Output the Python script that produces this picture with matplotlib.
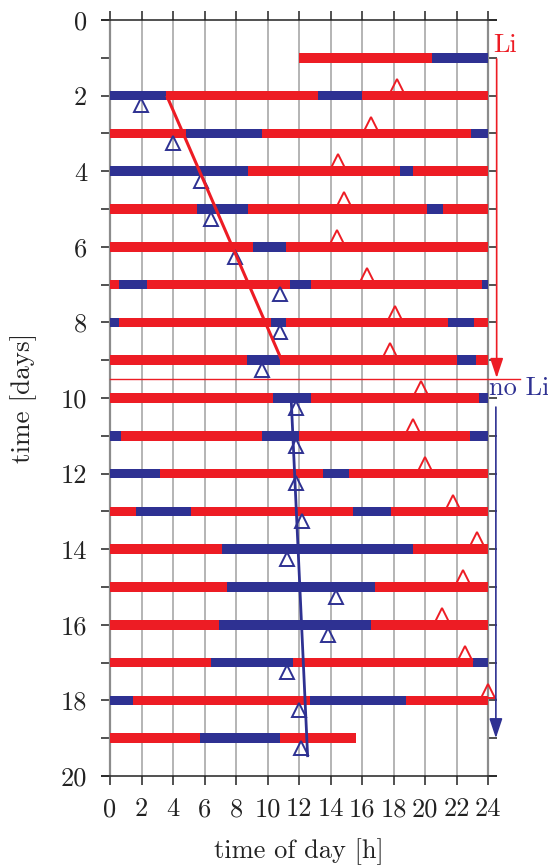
import matplotlib
matplotlib.use("Agg")
import matplotlib.pyplot as plt

plt.rcParams["font.family"] = ["cmr10", "DejaVu Serif"]
plt.rcParams["axes.formatter.use_mathtext"] = True

RED = "#ED1C24"
BLUE = "#2E3192"

# recording days (rows of the actogram)
days = list(range(1, 20))

# switching times within each day [h]; states alternate starting from first_state
edges = [
    [12, 20.44, 24],
    [0, 3.56, 13.2, 16.0, 24],
    [0, 4.81, 9.62, 22.92, 24],
    [0, 8.79, 18.43, 19.22, 24],
    [0, 5.51, 8.79, 20.13, 21.12, 24],
    [0, 9.11, 11.19, 24],
    [0, 0.59, 2.35, 11.42, 12.78, 23.62, 24],
    [0, 0.57, 10.21, 11.19, 21.46, 23.09, 24],
    [0, 8.71, 10.81, 22.03, 23.22, 24],
    [0, 10.38, 12.78, 23.43, 24],
    [0, 0.68, 9.64, 12.01, 22.84, 24],
    [0, 3.18, 13.52, 15.19, 24],
    [0, 1.63, 5.17, 15.42, 17.82, 24],
    [0, 7.12, 19.22, 24],
    [0, 7.42, 16.8, 24],
    [0, 6.91, 16.59, 24],
    [0, 6.4, 11.59, 23.03, 24],
    [0, 1.48, 12.71, 18.81, 24],
    [0, 5.72, 10.81, 15.61],
]
first_state = ["r", "b", "r", "b", "r", "r", "r", "b", "r", "r",
               "b", "b", "r", "r", "r", "r", "r", "b", "r"]

# red markers (above rows)
red_marker_days = list(range(2, 19))
red_marker_hours = [18.2, 16.57, 14.47, 14.83, 14.41, 16.31, 18.07, 17.75,
                    19.77, 19.22, 20.02, 21.78, 23.3, 22.41, 21.08, 22.56, 24.0]

# blue markers (below rows)
blue_marker_days = list(range(2, 20))
blue_marker_hours = [1.97, 4.0, 5.8, 6.42, 7.94, 10.8, 10.8, 9.62, 11.82,
                     11.82, 11.82, 12.18, 11.23, 14.34, 13.83, 11.23, 12.01, 12.1]

# phase fits
red_fit_hours = [3.6, 10.9]
red_fit_days = [2.0, 9.0]
blue_fit_hours = [11.5, 12.55]
blue_fit_days = [10.0, 19.5]

# condition change
switch_day = 9.5

xticks = list(range(0, 25, 2))
yticks = list(range(0, 21))
ytick_labels = [str(d) if d % 2 == 0 else "" for d in yticks]

fig = plt.figure(figsize=(5.48, 8.67), dpi=100)
ax = fig.add_axes([110 / 548, 1 - 776 / 867, 378 / 548, 756 / 867])

bar_h = 0.25
for day, row, st in zip(days, edges, first_state):
    col = RED if st == "r" else BLUE
    other = BLUE if st == "r" else RED
    for i in range(len(row) - 1):
        c = col if i % 2 == 0 else other
        ax.barh(day, row[i + 1] - row[i], left=row[i], height=bar_h,
                color=c, edgecolor="none", zorder=3)

off = 0.26
ax.plot(red_marker_hours, [d - off for d in red_marker_days], linestyle="none",
        marker="^", ms=10.5, mfc="none", mec=RED, mew=1.4, zorder=5, clip_on=False)
ax.plot(blue_marker_hours, [d + off for d in blue_marker_days], linestyle="none",
        marker="^", ms=10.5, mfc="none", mec=BLUE, mew=1.4, zorder=5, clip_on=False)

ax.plot(red_fit_hours, red_fit_days, color=RED, lw=2.2, zorder=6,
        solid_capstyle="butt")
ax.plot(blue_fit_hours, blue_fit_days, color=BLUE, lw=2.0, zorder=6,
        solid_capstyle="butt")

ax.plot([0, 26.0], [switch_day, switch_day], color=RED, lw=1.0, zorder=4,
        clip_on=False)

# condition arrows
ax.annotate("", xy=(24.55, 9.47), xytext=(24.55, 1.03),
            arrowprops=dict(arrowstyle="-|>,head_length=0.6,head_width=0.2",
                            mutation_scale=20, color=RED, lw=1.2,
                            shrinkA=0, shrinkB=0),
            annotation_clip=False, zorder=7)
ax.annotate("", xy=(24.5, 19.0), xytext=(24.5, 10.24),
            arrowprops=dict(arrowstyle="-|>,head_length=0.6,head_width=0.2",
                            mutation_scale=20, color=BLUE, lw=1.2,
                            shrinkA=0, shrinkB=0),
            annotation_clip=False, zorder=7)

ax.text(24.3, 0.85, "Li", color=RED, fontsize=19, ha="left", va="baseline",
        clip_on=False)
ax.text(24.04, 9.92, "no Li", color=BLUE, fontsize=19, ha="left",
        va="baseline", clip_on=False)

ax.set_xlim(0, 24)
ax.set_ylim(20, 0)

ax.set_xticks(xticks)
ax.set_xticklabels([str(t) for t in xticks])
ax.set_yticks(yticks)
ax.set_yticklabels(ytick_labels)

ax.tick_params(axis="x", direction="out", length=6.5, width=1.1, color="#222222",
               top=True, bottom=True, labeltop=False, labelbottom=True,
               pad=9, labelsize=19, labelcolor="#222222")
ax.tick_params(axis="y", direction="out", length=6.5, width=1.1, color="#222222",
               left=True, right=True, labelleft=True, labelright=False,
               pad=10, labelsize=19, labelcolor="#222222")

ax.grid(axis="x", color="#a8a8a8", lw=1.2, zorder=0)
ax.set_axisbelow(True)

for side in ("top", "bottom"):
    ax.spines[side].set_visible(False)
for side in ("left", "right"):
    ax.spines[side].set_color("#8c8c8c")
    ax.spines[side].set_linewidth(1.6)

ext = 0.57
for yy in (0, 20):
    ax.plot([-ext, 24 + ext], [yy, yy], color="#222222", lw=1.1, zorder=8,
            clip_on=False, solid_capstyle="butt")

fig.text(299 / 548, 1 - 852 / 867, "time of day [h]", fontsize=19,
         ha="center", va="center", color="#222222")
fig.text(24 / 548, 1 - 398 / 867, "time [days]", fontsize=19.5, rotation=90,
         ha="center", va="center", color="#222222")

fig.savefig("out.png", dpi=100)
